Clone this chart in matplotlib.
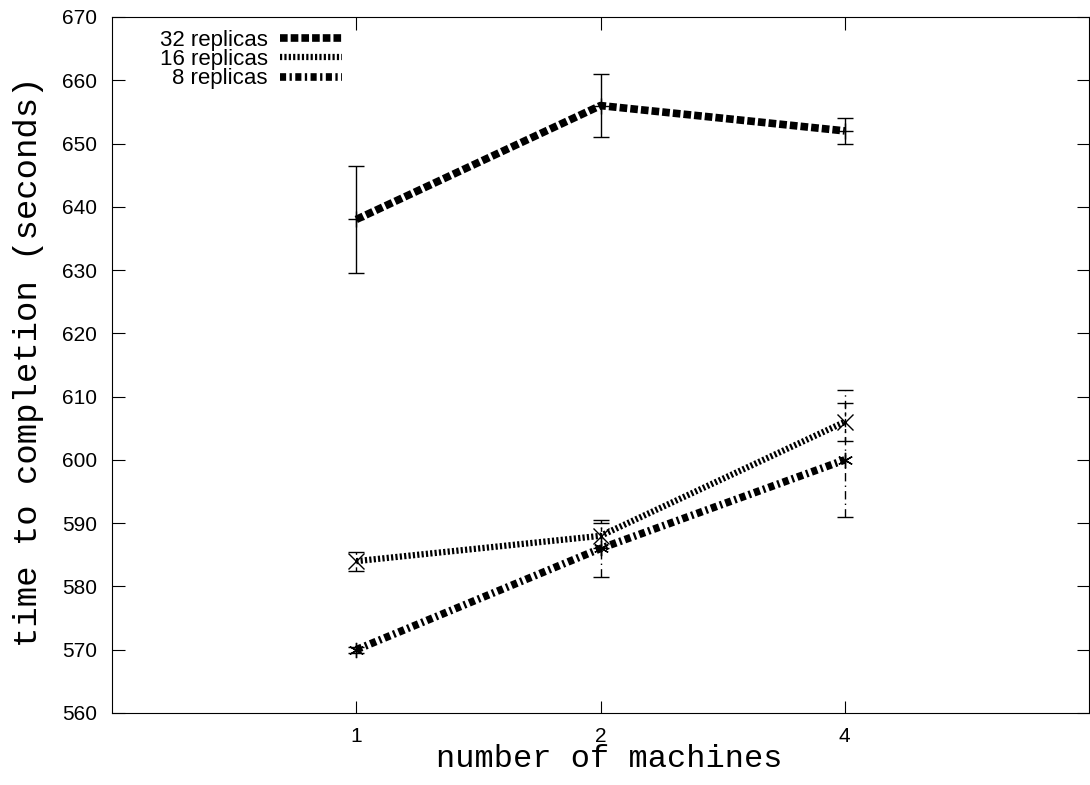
import numpy as np
import matplotlib
matplotlib.use("Agg")
import matplotlib.pyplot as plt

machines = ["1", "2", "4"]
series = ["32 replicas", "16 replicas", "8 replicas"]
t32 = [638, 656, 652]
t32_lo = [8.5, 5, 2]
t32_hi = [8.5, 5, 2]
t16 = [584, 588, 606]
t16_lo = [1.5, 2, 3]
t16_hi = [1.5, 2, 3]
t8 = [570, 586, 600]
t8_lo = [0.5, 4.5, 9]
t8_hi = [0.5, 4.5, 11]

x = np.arange(1, len(machines) + 1)

fig = plt.figure(figsize=(10.9, 7.85), dpi=100)
ax = fig.add_axes([112 / 1090, 72 / 785, 977 / 1090, 696 / 785])

styles = [
    (t32, t32_lo, t32_hi, 5.5, (0, (1.0, 0.4)), "+", "-"),
    (t16, t16_lo, t16_hi, 4.5, (0, (0.35, 0.35)), "x", (0, (3, 3))),
    (t8, t8_lo, t8_hi, 5.5, (0, (0.8, 0.45, 0.3, 0.45)), (6, 2, 0), (0, (6, 3, 1, 3))),
]

for name, (y, lo, hi, lw, ls, mk, els) in zip(series, styles):
    ax.plot(x, y, color="black", lw=lw, linestyle=ls, dash_capstyle="butt",
            label=name)
    eb = ax.errorbar(x, y, yerr=[lo, hi], fmt="none", ecolor="black",
                     elinewidth=1, capsize=6, capthick=1)
    eb[2][0].set_linestyle(els)
    ax.plot(x, y, linestyle="none", marker=mk, color="black", ms=11, mew=1)

ax.set_xlim(0, 4)
ax.set_ylim(560, 670)
ax.set_xticks(x)
ax.set_xticklabels(machines)
ax.set_yticks(np.arange(560, 671, 10))
ax.tick_params(direction="in", length=9, top=True, right=True, labelsize=15)
ax.tick_params(axis="y", pad=11)
ax.tick_params(axis="x", pad=10)
for lab in ax.get_xticklabels() + ax.get_yticklabels():
    lab.set_family("Liberation Sans")

ax.set_xlabel("number of machines", family="Liberation Mono", fontsize=23)
ax.set_ylabel("time to completion (seconds)", family="Liberation Mono",
              fontsize=24.5)
ax.xaxis.set_label_coords(0.509, -0.045)
ax.yaxis.set_label_coords(-0.07, 0.505)

leg = ax.legend(loc="upper left", markerfirst=False, frameon=False,
                prop={"family": "Liberation Sans", "size": 16},
                handlelength=2.8, handletextpad=0.55, labelspacing=-0.07,
                borderaxespad=0, borderpad=0,
                bbox_to_anchor=(0.049, 0.982))

fig.savefig("out.png", dpi=100)
